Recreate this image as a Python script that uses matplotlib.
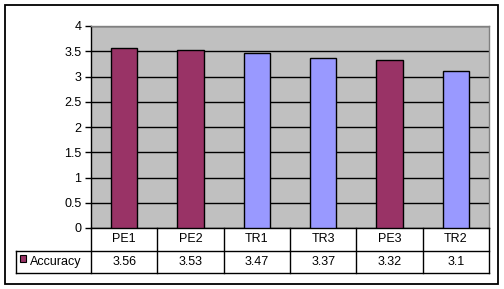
import matplotlib

matplotlib.use("Agg")
import matplotlib.pyplot as plt
from matplotlib.patches import Rectangle
from matplotlib.lines import Line2D

categories = ["PE1", "PE2", "TR1", "TR3", "PE3", "TR2"]
accuracy = [3.56, 3.53, 3.47, 3.37, 3.32, 3.1]
groups = ["PE", "PE", "TR", "TR", "PE", "TR"]
series_name = "Accuracy"
yticks = [0, 0.5, 1, 1.5, 2, 2.5, 3, 3.5, 4]

W, H = 504, 289
COLORS = {"PE": "#993366", "TR": "#9999FF"}
FONT = "Liberation Sans"
FS = 9


def fx(px):
    return px / W


def fy(py):
    return 1 - py / H


fig = plt.figure(figsize=(W / 100, H / 100), dpi=100)
fig.patch.set_facecolor("white")

# outer chart border
fig.patches.append(Rectangle((fx(5), fy(284)), fx(493), 279 / H, transform=fig.transFigure,
                             fill=False, edgecolor="black", linewidth=1.3))

left, right, top, bottom = 91, 489, 26, 228
ax = fig.add_axes([fx(left), fy(bottom), fx(right - left), (bottom - top) / H])
ax.set_facecolor("#C0C0C0")
xs = list(range(len(categories)))
ax.bar(xs, accuracy, width=0.4, color=[COLORS[g] for g in groups],
       edgecolor="black", linewidth=1, zorder=3)
ax.set_xlim(-0.5, len(categories) - 0.5)
ax.set_ylim(0, 4)
ax.set_yticks(yticks)
ax.set_yticklabels([f"{v:g}" for v in yticks], fontsize=FS, family=FONT)
ax.yaxis.grid(True, color="black", linewidth=1, zorder=1)
ax.set_xticks([])
ax.tick_params(axis="y", length=4, width=1, pad=3)
ax.spines["top"].set_color("#808080")
ax.spines["right"].set_color("#808080")
ax.spines["left"].set_color("black")
ax.spines["bottom"].set_color("black")
for s in ax.spines.values():
    s.set_linewidth(1)

# data table below the plot
row1, row2, row3 = 228, 251, 273
legend_left = 16
col_w = (right - left) / len(categories)

def hline(x0, x1, y):
    fig.add_artist(Line2D([fx(x0), fx(x1)], [fy(y), fy(y)], transform=fig.transFigure,
                          color="black", linewidth=1))

def vline(x, y0, y1):
    fig.add_artist(Line2D([fx(x), fx(x)], [fy(y0), fy(y1)], transform=fig.transFigure,
                          color="black", linewidth=1))

hline(legend_left, right, row2)
hline(legend_left, right, row3)
vline(legend_left, row2, row3)
for i in range(len(categories) + 1):
    vline(left + i * col_w, row1, row3)

for i, (cat, val) in enumerate(zip(categories, accuracy)):
    cx = left + (i + 0.5) * col_w
    fig.text(fx(cx), fy((row1 + row2) / 2), cat, ha="center", va="center",
             fontsize=FS, family=FONT)
    fig.text(fx(cx), fy((row2 + row3) / 2), f"{val:g}", ha="center", va="center",
             fontsize=FS, family=FONT)

fig.patches.append(Rectangle((fx(20), fy(262)), fx(6), 7 / H, transform=fig.transFigure,
                             facecolor=COLORS["PE"], edgecolor="black", linewidth=0.8))
fig.text(fx(30), fy((row2 + row3) / 2), series_name, ha="left", va="center",
         fontsize=FS, family=FONT)

fig.savefig("out.png", dpi=100)
